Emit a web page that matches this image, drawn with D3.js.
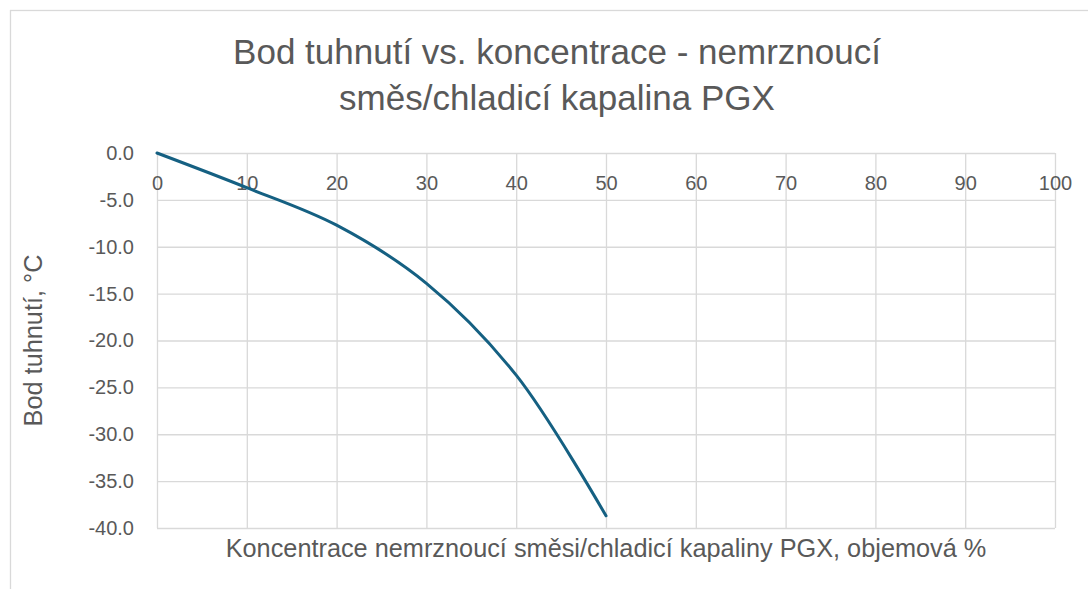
<!DOCTYPE html>
<html lang="cs">
	<head>
		<meta charset="utf-8">
		<title>Bod tuhnutí vs. koncentrace</title>
		<script src="https://d3js.org/d3.v7.min.js"></script>
		<style type="text/css">
			body {
				margin: 0;
				background: #fff;
			}
			text {
				font-family: "Liberation Sans", Arial, sans-serif;
				fill: #595959;
			}
		</style>
	</head>
	<body>
		<script type="text/javascript">
			//Data: concentration (vol. %) and freezing point (°C)
			var koncentrace = [0, 10, 20, 30, 40, 50];
			var bodTuhnuti = [0, -3.7, -7.7, -13.9, -23.7, -38.7];

			//Ticks
			var xTicks = [0, 10, 20, 30, 40, 50, 60, 70, 80, 90, 100];
			var yTicks = [0, -5, -10, -15, -20, -25, -30, -35, -40];
			var yTickLabels = ["0.0", "-5.0", "-10.0", "-15.0", "-20.0", "-25.0", "-30.0", "-35.0", "-40.0"];

			var titleLines = ["Bod tuhnutí vs. koncentrace - nemrznoucí", "směs/chladicí kapalina PGX"];
			var xTitle = "Koncentrace nemrznoucí směsi/chladicí kapaliny PGX, objemová %";
			var yTitle = "Bod tuhnutí, °C";

			//Width and height
			var w = 1088;
			var h = 589;
			var plot = {left: 157, right: 1055, top: 153, bottom: 528};

			var svg = d3.select("body")
				.append("svg")
				.attr("width", w)
				.attr("height", h);

			//Chart frame
			svg.append("rect")
				.attr("x", 10.5)
				.attr("y", 10.5)
				.attr("width", 1200)
				.attr("height", 700)
				.attr("fill", "#fff")
				.attr("stroke", "#d9d9d9")
				.attr("stroke-width", 1.3);

			var x = d3.scaleLinear()
				.domain([0, 100])
				.range([plot.left, plot.right]);

			var y = d3.scaleLinear()
				.domain([-40, 0])
				.range([plot.bottom, plot.top]);

			//Gridlines
			var gridX = svg.append("g")
				.attr("transform", "translate(0," + plot.bottom + ")")
				.call(d3.axisBottom(x)
					.tickValues(xTicks)
					.tickSize(-(plot.bottom - plot.top))
					.tickFormat(""));

			var gridY = svg.append("g")
				.attr("transform", "translate(" + plot.left + ",0)")
				.call(d3.axisLeft(y)
					.tickValues(yTicks)
					.tickSize(-(plot.right - plot.left))
					.tickFormat(""));

			[gridX, gridY].forEach(function(g) {
				g.select(".domain").remove();
				g.selectAll("line")
					.attr("stroke", "#d9d9d9")
					.attr("stroke-width", 1.3);
			});

			//Tick labels
			var labX = svg.append("g")
				.attr("transform", "translate(0," + y(0) + ")")
				.call(d3.axisBottom(x)
					.tickValues(xTicks)
					.tickSize(0)
					.tickPadding(23)
					.tickFormat(function(d) { return d; }));

			var labY = svg.append("g")
				.attr("transform", "translate(" + plot.left + ",0)")
				.call(d3.axisLeft(y)
					.tickValues(yTicks)
					.tickSize(0)
					.tickPadding(23)
					.tickFormat(function(d, i) { return yTickLabels[i]; }));

			[labX, labY].forEach(function(g) {
				g.select(".domain").remove();
				g.selectAll("text")
					.attr("font-size", 20)
					.attr("font-family", null)
					.attr("fill", "#595959");
			});

			//Line
			var line = d3.line()
				.x(function(d) { return x(d[0]); })
				.y(function(d) { return y(d[1]); })
				.curve(d3.curveCatmullRom);

			svg.append("path")
				.datum(koncentrace.map(function(k, i) { return [k, bodTuhnuti[i]]; }))
				.attr("d", line)
				.attr("fill", "none")
				.attr("stroke", "#156082")
				.attr("stroke-width", 3)
				.attr("stroke-linecap", "round");

			//Title
			svg.append("text")
				.attr("text-anchor", "middle")
				.attr("font-size", 35)
				.selectAll("tspan")
				.data(titleLines)
				.enter()
				.append("tspan")
				.attr("x", 557)
				.attr("y", function(d, i) { return 64 + i * 46; })
				.text(function(d) { return d; });

			//Axis titles
			svg.append("text")
				.attr("x", (plot.left + plot.right) / 2)
				.attr("y", 557)
				.attr("text-anchor", "middle")
				.attr("font-size", 25.3)
				.text(xTitle);

			svg.append("text")
				.attr("transform", "translate(42," + (plot.top + plot.bottom) / 2 + ") rotate(-90)")
				.attr("text-anchor", "middle")
				.attr("font-size", 25.3)
				.text(yTitle);

		</script>
	</body>
</html>
